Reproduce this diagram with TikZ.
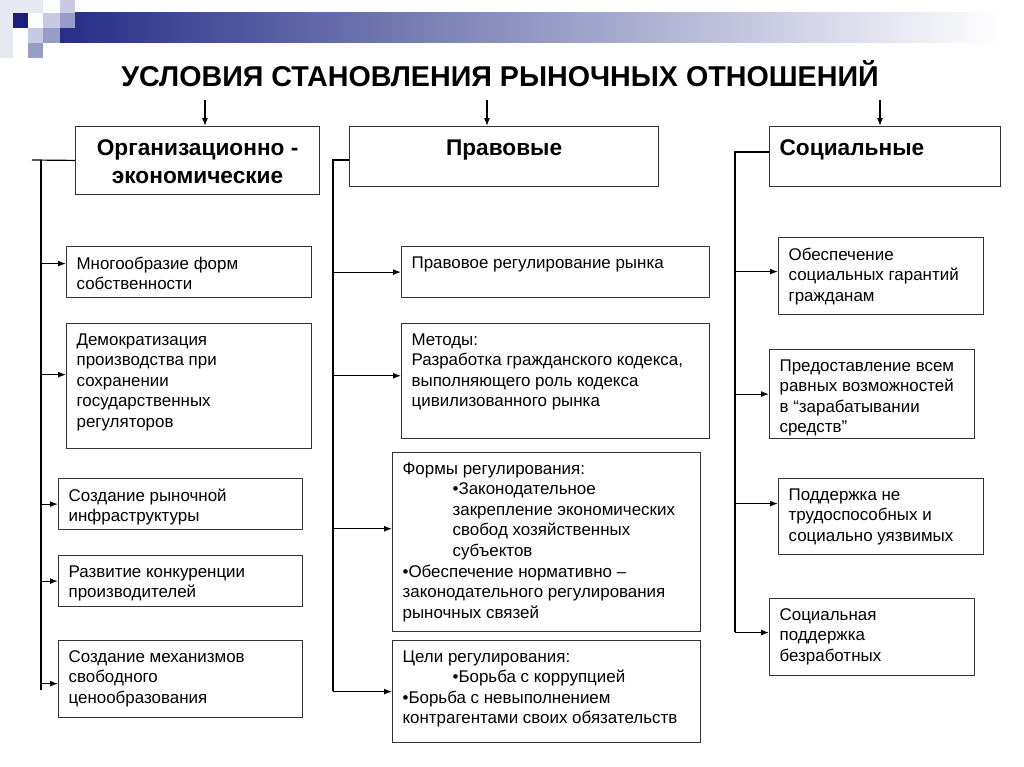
\documentclass[tikz,border=0pt]{standalone}
\usepackage{fontspec}
\setmainfont{Liberation Sans}
\newfontfamily\titlefont{Liberation Sans}
\usetikzlibrary{arrows.meta,calc}
\definecolor{navy}{HTML}{1B1F78}
\definecolor{barblue}{HTML}{262E86}
\definecolor{lilac}{HTML}{C7CAE2}
\definecolor{mauve}{HTML}{989DC8}
\definecolor{mist}{HTML}{E6E8F2}
\definecolor{rule}{HTML}{333333}
\newlength\pxu \setlength\pxu{0.75pt}
\newcommand\bx[3]{\parbox[c][#2\pxu][t]{#1\pxu}{\raggedright #3}}
\newcommand\ind{\hspace*{50\pxu}}
\tikzset{box/.style={draw=rule,line width=.9pt,anchor=north west,inner xsep=7.5pt,inner ysep=7.5pt,font=\fontsize{12.7}{15.4}\selectfont}, head/.style={box,inner ysep=10pt,font=\fontsize{17}{20.5}\selectfont\bfseries}, line/.style={line width=.9pt}, flow/.style={line,-{Latex[length=6pt,width=4.5pt]}}}
\begin{document}
\begin{tikzpicture}[x=0.75pt,y=-0.75pt]
\useasboundingbox (0,0) rectangle (1024,767);
\fill[white] (0,0) rectangle (1024,767);
% slide decoration
\shade[left color=barblue,right color=white] (60,13) rectangle (1000,43);
\fill[mist] (0,0) rectangle (13,58);\fill[mist] (13,0) rectangle (43,13);
\fill[navy] (13,13) rectangle (28,28);
\fill[lilac] (43,13) rectangle (60,28);\fill[lilac] (60,0) rectangle (75,13);
\fill[mauve] (60,13) rectangle (75,28);\fill[lilac] (28,28) rectangle (43,43);
\fill[mauve] (43,28) rectangle (60,43);\fill[mauve] (28,43) rectangle (43,58);
\node[font={\titlefont\bfseries\fontsize{21.5}{26}\selectfont}] (title) at (500,74) {УСЛОВИЯ СТАНОВЛЕНИЯ РЫНОЧНЫХ ОТНОШЕНИЙ};
% three groups
\node[head] (org) at (75,126) {\bx{224}{41}{\centering Организационно -\\экономические}};
\node[head] (prav) at (349,126) {\bx{289}{33}{\centering Правовые}};
\node[head] (soc) at (769,126) {\bx{211}{33}{Социальные}};
\coordinate (a1) at (205,100);\coordinate (a2) at (487,100);\coordinate (a3) at (880,100);
\draw[flow] (a1)--(a1|-org.north);\draw[flow] (a2)--(a2|-prav.north);\draw[flow] (a3)--(a3|-soc.north);
% left column
\node[box] (l1) at (66,246) {\bx{225}{31}{Многообразие форм\\собственности}};
\node[box] (l2) at (66,323) {\bx{225}{105}{Демократизация\\производства при\\сохранении\\государственных\\регуляторов}};
\node[box] (l3) at (58,478) {\bx{224}{31}{Создание рыночной\\инфраструктуры}};
\node[box] (l4) at (58,555) {\bx{224}{31}{Развитие конкуренции\\производителей}};
\node[box] (l5) at (58,640) {\bx{224}{57}{Создание механизмов\\свободного\\ценообразования}};
% middle column
\node[box] (m1) at (401,246) {\bx{288}{31}{Правовое регулирование рынка}};
\node[box] (m2) at (401,323) {\bx{288}{95}{Методы:\\Разработка гражданского кодекса,\\выполняющего роль кодекса\\цивилизованного рынка}};
\node[box] (m3) at (392,452) {\bx{288}{159}{Формы регулирования:\\\ind •Законодательное\\\ind закрепление экономических\\\ind свобод хозяйственных\\\ind субъектов\\•Обеспечение нормативно –\\законодательного регулирования\\рыночных связей}};
\node[box] (m4) at (392,640) {\bx{288}{82}{Цели регулирования:\\\ind •Борьба с коррупцией\\•Борьба с невыполнением\\контрагентами своих обязательств}};
% right column
\node[box] (r1) at (778,237) {\bx{185}{57}{Обеспечение\\социальных гарантий\\гражданам}};
\node[box] (r2) at (769,349) {\bx{185}{69}{Предоставление всем\\равных возможностей\\в “зарабатывании\\средств”}};
\node[box] (r3) at (778,478) {\bx{185}{56}{Поддержка не\\трудоспособных и\\социально уязвимых}};
\node[box] (r4) at (769,598) {\bx{185}{57}{Социальная\\поддержка\\безработных}};
% trunks
\coordinate (ls) at (32,160);\coordinate (lt) at (41,160);\coordinate (lb) at (41,690);
\coordinate (mt) at (333,160);\coordinate (mb) at (333,691);
\coordinate (rt) at (735,152);\coordinate (rb) at (735,632);
\draw[line] (org.west)--(ls);\draw[line] (lt)--(lb);
\draw[line] (prav.west|-mt)--(mt)--(mb);
\draw[line] (soc.west|-rt)--(rt)--(rb);
\foreach \n/\t/\s in {l1/lt/6.4,l2/lt/8.6,l3/lt/0,l4/lt/0,l5/lt/-3.4,m1/mt/0,m2/mt/4,m3/mt/10,m4/mt/0,r1/rt/3.4,r2/rt/0,r3/rt/9.75,r4/rt/3.4}
  \draw[flow] ([yshift=\s pt]\n.west-|\t)--([yshift=\s pt]\n.west);
\end{tikzpicture}
\end{document}
